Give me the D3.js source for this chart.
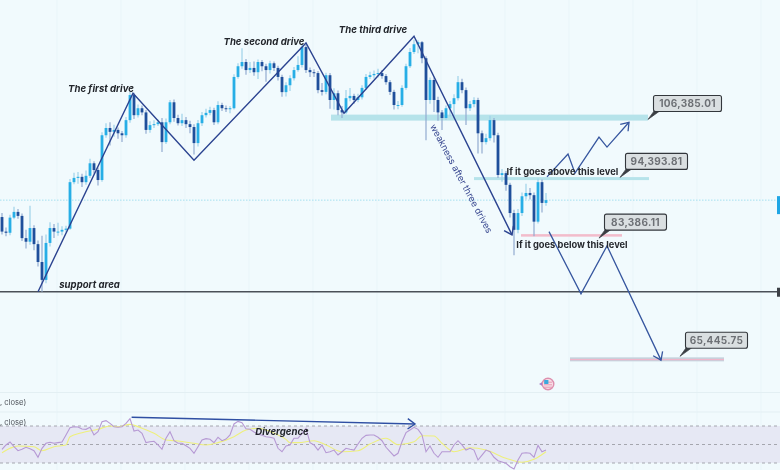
<!DOCTYPE html>
<html>
<head>
<meta charset="utf-8">
<script src="https://cdn.jsdelivr.net/npm/d3@7"></script>
<style>
  html, body { margin: 0; padding: 0; background: #f1fafd; overflow: hidden; }
  text { font-family: Inter, "Open Sans", sans-serif; }
</style>
</head>
<body>
<div id="chart"></div>
<script>
// prices are in thousands of USD, one entry per candle
const firstOpen = 87.2;
const closes = [
  84.7, 84.5, 87.1, 88.1, 87.4, 83.6, 83.0, 85.3, 82.6, 79.7, 76.9, 82.8, 85.3, 84.7, 84.7, 85.0, 85.2,
  93.5, 94.3, 94.5, 93.5, 94.7, 97.1, 95.8, 93.9, 102.7, 104.2, 103.4, 103.8, 103.1, 102.7, 105.85, 111.3,
  106.9, 108.4, 107.5, 103.8, 104.8, 105.0, 105.4, 101.3, 105.4, 109.7, 106.3, 105.2, 105.85, 105.0, 104.4,
  101.1, 105.2, 106.9, 107.4, 108.0, 105.4, 109.1, 108.4, 108.2, 108.4, 115.4, 117.9, 118.9, 117.0, 117.5,
  116.5, 118.9, 117.9, 117.0, 118.6, 117.5, 115.4, 111.95, 113.5, 115.1, 117.0, 118.2, 122.5, 117.0, 116.5,
  116.3, 112.4, 112.0, 115.8, 110.2, 111.7, 108.0, 107.5, 110.6, 111.1, 110.2, 110.8, 112.9, 115.4, 115.8,
  116.1, 116.3, 115.6, 114.2, 112.0, 109.1, 109.1, 112.9, 117.9, 121.3, 123.2, 123.7, 119.8, 110.2, 114.7,
  110.2, 107.5, 106.3, 108.4, 109.3, 110.6, 114.2, 112.4, 108.4, 109.3, 110.2, 103.1, 101.3, 102.1, 105.85,
  102.7, 94.85, 95.2, 93.0, 87.9, 85.0, 87.9, 90.9, 91.5, 91.1, 86.4, 93.5, 89.7, 90.2
];
const highs = [
  87.9, 85.4, 87.6, 89.0, 88.6, 87.8, 85.0, 89.2, 85.8, 83.2, 84.0, 84.2, 86.3, 86.0, 86.2, 85.6, 85.7,
  94.1, 95.3, 95.4, 95.1, 95.7, 98.0, 97.5, 96.3, 103.3, 105.2, 105.4, 104.9, 104.3, 103.6, 106.5, 112.0,
  111.8, 109.2, 109.0, 108.0, 105.6, 105.8, 106.0, 106.3, 106.2, 110.2, 110.3, 107.0, 107.2, 106.5, 105.7,
  105.0, 105.9, 107.6, 108.3, 108.7, 108.5, 109.9, 109.6, 109.0, 108.9, 116.0, 118.6, 122.2, 119.6, 118.9,
  119.0, 119.5, 119.4, 118.5, 119.2, 119.0, 118.0, 115.9, 114.2, 115.8, 117.7, 120.3, 123.3, 123.1, 117.6,
  117.2, 116.8, 114.0, 116.4, 116.3, 112.8, 112.3, 108.9, 112.4, 112.9, 111.6, 111.6, 113.5, 116.1, 116.6,
  116.9, 117.3, 117.0, 116.1, 114.7, 112.5, 110.0, 113.5, 118.5, 122.3, 124.3, 124.2, 124.0, 120.3, 115.3,
  115.3, 110.9, 108.0, 109.0, 110.0, 111.5, 115.6, 115.0, 113.0, 110.0, 110.8, 110.7, 103.7, 103.0, 106.8,
  106.3, 103.2, 96.0, 95.6, 93.4, 88.5, 88.6, 91.6, 93.2, 92.4, 91.6, 94.2, 94.0, 91.5
];
const lows = [
  84.2, 83.9, 84.1, 86.8, 86.9, 83.1, 81.9, 82.5, 81.6, 79.0, 75.1, 76.4, 82.2, 83.6, 84.0, 84.1, 84.6,
  85.0, 93.1, 93.2, 92.6, 93.0, 94.3, 95.1, 92.9, 93.6, 102.2, 100.6, 102.4, 102.0, 101.3, 102.2, 105.3,
  106.1, 106.4, 106.9, 103.0, 103.2, 104.2, 104.6, 99.3, 100.9, 105.0, 105.5, 104.7, 104.6, 104.2, 103.1,
  98.8, 100.4, 104.6, 106.4, 106.9, 104.8, 105.0, 107.8, 107.6, 107.3, 108.1, 115.0, 117.3, 115.9, 116.3,
  115.7, 114.9, 116.7, 114.3, 116.2, 116.8, 114.6, 110.9, 111.0, 112.2, 114.6, 116.6, 117.6, 116.3, 115.4,
  115.4, 111.7, 111.2, 111.5, 108.3, 108.1, 106.9, 106.3, 107.1, 109.9, 109.4, 109.7, 110.3, 112.4, 114.9,
  115.0, 115.3, 115.0, 113.6, 111.3, 108.1, 108.2, 108.7, 112.5, 117.5, 120.8, 121.0, 118.6, 101.7, 109.4,
  107.6, 105.7, 103.8, 105.9, 106.6, 106.2, 110.1, 111.7, 104.8, 107.8, 108.6, 99.0, 99.0, 100.8, 101.6,
  101.2, 94.3, 93.6, 91.9, 87.1, 80.8, 84.4, 87.4, 90.3, 90.3, 83.9, 86.1, 88.0, 89.2
];

// RSI pane, one value per candle
const rsiValues = [
  44.8, 49.5, 52.7, 47.6, 43.3, 44.8, 47, 45.5, 43.3, 36.2, 45.9, 51.3, 52.4, 51.3, 52, 52.7, 60.3, 68.2,
  69.2, 68.9, 66.8, 66.4, 68.6, 60.3, 63.8, 74.6, 75.8, 72.9, 69.2, 68.6, 69.2, 72.9, 77.9, 64.6, 65.7, 62.1,
  52, 53, 53.5, 49.5, 44.8, 56.7, 63.8, 54.1, 51.3, 51.3, 48.7, 45.9, 40.5, 47.6, 54.9, 56.3, 55.6, 52, 57.8,
  54.1, 55.9, 60.3, 72.2, 75, 73.6, 67.1, 66.4, 63.5, 61.4, 59.9, 58.4, 57.8, 56.7, 45.9, 42.2, 48.4, 49.5,
  56.7, 56.7, 62.1, 67.5, 52, 49.5, 44, 49.5, 41.1, 42.2, 44, 38.6, 42.2, 45.9, 44.8, 44, 50.5, 56.7, 59.9,
  60.3, 60.3, 57.8, 54.1, 47, 42.2, 37.6, 40.5, 53, 62.8, 65.7, 68.6, 66.4, 60.3, 42.2, 48.4, 40.5, 36.2, 42.2,
  42.2, 42.2, 49.5, 54.1, 49.5, 44, 45.9, 44, 33.2, 38.6, 44, 42.2, 36.2, 32.5, 31.1, 29.7, 26, 23.5, 33.2,
  40.5, 41.1, 40.5, 36.2, 49.1, 42.2, 44
];
const rsiMaIdx = [0, 2, 4, 8, 10, 13, 16, 17, 20, 24, 27, 29, 32, 35, 38, 41, 44, 48, 51, 54, 58, 61, 64, 66, 69,
  71, 72, 74, 78, 81, 85, 89, 92, 96, 99, 103, 105, 108, 110, 113, 117, 121, 126, 130, 133, 136];
const rsiMaValues = [41.1, 45.9, 48.4, 47.6, 43.3, 47.6, 49.5, 58.4, 62.8, 66.4, 70, 69.2, 71.8, 67.5, 62.1, 54.9,
  53.8, 51.3, 49.5, 52, 58.4, 65.7, 67.5, 65.7, 60.3, 55.6, 52, 52, 54.1, 49.5, 42.2, 43.3, 50.5, 56.7, 49.8, 53,
  59.5, 59.2, 51.3, 42.2, 46.5, 44, 35.1, 30.8, 34, 42.2];
const rsiBands = [70, 50, 30];

// drawn annotations, [candle index, price]
const driveLine = [[9, 75.1], [32.75, 111.7], [48, 97.7], [76, 123.5], [85.5, 107.3], [103, 125.2], [127.5, 84.15]];
const upPath = [[136.25, 94.5], [141.5, 98.9], [143.25, 95.2], [149.25, 102.3], [151.25, 100.3], [156.75, 105.4]];
const downPath = [[136.75, 84.7], [144.75, 74.8], [151.25, 82.3], [164.75, 65.5]];
const divergence = [[32.4, 79.4], [103.25, 72.2]];
const supportPrice = 75.1;

const levelLabels = ["106,385.01", "94,393.81", "83,386.11", "65,445.75"];
const levelPrices = [106.385, 94.17, 84.06, 65.6];
const levelFrom = [82.25, 118, 129.75, 142];
const levelTo = [161.5, 161.75, 155, 180.5];
const levelTailIdx = [161.5, 154.5, 149.25, 169.5];
const levelTailPrice = [106.0, 94.4, 83.6, 66.0];
const levelColors = ["#b6e3ea", "#b6e3ea", "#f2bccb", "#c3d3dd"];
const levelHeights = [6, 3, 2.5, 4];

const noteTexts = ["The first drive", "The second drive", "The third drive", "support area"];
const noteIdx = [24.75, 65.5, 92.75, 21.9];
const notePrices = [111.9, 122.9, 125.95, 75.6];
const plainTexts = ["If it goes above this level", "If it goes below this level"];
const plainIdx = [140.1, 142.5];
const plainPrices = [94.85, 82.0];

const width = 780, height = 470;
const paneBottom = 390;

const x = d3.scaleLinear().domain([0, 136]).range([2, 546]);
const y = d3.scaleLog().domain([61.7, 134.6]).range([paneBottom, 0]);
const yRsi = d3.scaleLinear().domain([30, 70]).range([463, 426]);

const svg = d3.select("#chart").append("svg")
  .attr("width", width)
  .attr("height", height)
  .style("display", "block");

svg.append("rect").attr("width", width).attr("height", height).attr("fill", "#f1fafd");

// the screenshot is a soft upscale, everything sits in this group
const g = svg.append("g").style("filter", "blur(0.55px)");

// faint vertical grid
const gridIdx = d3.range(-3, 190, 16);
g.selectAll("line.grid").data(gridIdx).enter().append("line")
  .attr("class", "grid")
  .attr("x1", d => x(d) + 3).attr("x2", d => x(d) + 3)
  .attr("y1", 0).attr("y2", height)
  .attr("stroke", "#e9f5f9").attr("stroke-width", 1);

// pane separators
g.selectAll("line.sep").data([392.5, 412]).enter().append("line")
  .attr("class", "sep")
  .attr("x1", 0).attr("x2", width)
  .attr("y1", d => d).attr("y2", d => d)
  .attr("stroke", "#e3eff3").attr("stroke-width", 1);

// levels
levelPrices.forEach(function(p, i) {
  const h = levelHeights[i];
  g.append("rect")
    .attr("x", x(levelFrom[i]))
    .attr("y", y(p) - h / 2)
    .attr("width", x(levelTo[i]) - x(levelFrom[i]))
    .attr("height", h)
    .attr("fill", levelColors[i]);
  if (i == 3) {
    g.append("rect")
      .attr("x", x(levelFrom[i]))
      .attr("y", y(p) - 0.5)
      .attr("width", x(levelTo[i]) - x(levelFrom[i]))
      .attr("height", 1.4)
      .attr("fill", "#efb6ca");
  }
});

// last price and support lines
const lastY = y(closes[closes.length - 1]);
g.append("line")
  .attr("x1", 0).attr("x2", width).attr("y1", lastY).attr("y2", lastY)
  .attr("stroke", "#a5e0f0").attr("stroke-width", 1).attr("stroke-dasharray", "1.5 1.5");
g.append("rect").attr("x", 777).attr("y", lastY - 4).attr("width", 3).attr("height", 18).attr("fill", "#1fa6e5");

g.append("line")
  .attr("x1", 0).attr("x2", width).attr("y1", y(supportPrice)).attr("y2", y(supportPrice))
  .attr("stroke", "#4b5058").attr("stroke-width", 1.3);
g.append("rect").attr("x", 777).attr("y", y(supportPrice) - 4).attr("width", 3).attr("height", 9).attr("fill", "#3c4046");

// candles
const candles = closes.map(function(c, i) {
  return { i: i, open: i == 0 ? firstOpen : closes[i - 1], close: c, high: highs[i], low: lows[i] };
});

g.selectAll("line.wick").data(candles).enter().append("line")
  .attr("class", "wick")
  .attr("x1", d => x(d.i)).attr("x2", d => x(d.i))
  .attr("y1", d => y(d.high)).attr("y2", d => y(d.low))
  .attr("stroke", d => d.close >= d.open ? "#9ed2ea" : "#93abd0")
  .attr("stroke-width", 1.2);

g.selectAll("rect.body").data(candles).enter().append("rect")
  .attr("class", "body")
  .attr("x", d => x(d.i) - 1.4)
  .attr("width", 2.8)
  .attr("y", d => y(Math.max(d.open, d.close)))
  .attr("height", d => Math.max(1, Math.abs(y(d.open) - y(d.close))))
  .attr("fill", d => d.close >= d.open ? "#27aee6" : "#1f4f9b");

// trend lines
const px = d3.line().x(d => x(d[0])).y(d => y(d[1]));

function arrowHead(sel, from, to, size, color, sw) {
  const a = Math.atan2(to[1] - from[1], to[0] - from[0]);
  const spread = 0.62;
  const pts = [
    [to[0] - size * Math.cos(a - spread), to[1] - size * Math.sin(a - spread)],
    to,
    [to[0] - size * Math.cos(a + spread), to[1] - size * Math.sin(a + spread)]
  ];
  sel.append("path")
    .attr("d", d3.line()(pts))
    .attr("fill", "none")
    .attr("stroke", color)
    .attr("stroke-width", sw);
}

function trend(points, color, sw) {
  g.append("path")
    .attr("d", px(points))
    .attr("fill", "none")
    .attr("stroke", color)
    .attr("stroke-width", sw)
    .attr("stroke-linejoin", "miter");
  const n = points.length;
  arrowHead(g,
    [x(points[n - 2][0]), y(points[n - 2][1])],
    [x(points[n - 1][0]), y(points[n - 1][1])],
    9, color, sw);
}

trend(driveLine, "#2b4390", 1.4);
trend(upPath, "#36569f", 1.3);
trend(downPath, "#36569f", 1.3);

// annotations
g.selectAll("text.note").data(noteTexts).enter().append("text")
  .attr("class", "note")
  .attr("x", (d, i) => x(noteIdx[i]))
  .attr("y", (d, i) => y(notePrices[i]))
  .attr("text-anchor", "middle")
  .attr("font-size", 9.6)
  .attr("font-weight", 700)
  .attr("font-style", "italic")
  .attr("fill", "#22252b")
  .text(d => d);

g.selectAll("text.plain").data(plainTexts).enter().append("text")
  .attr("class", "plain")
  .attr("x", (d, i) => x(plainIdx[i]))
  .attr("y", (d, i) => y(plainPrices[i]))
  .attr("text-anchor", "middle")
  .attr("font-size", 9.3)
  .attr("font-weight", 700)
  .attr("fill", "#26292e")
  .text(d => d);

g.append("text")
  .attr("transform", "translate(" + x(114.1) + "," + y(93.9) + ") rotate(62)")
  .attr("text-anchor", "middle")
  .attr("font-size", 9.3)
  .attr("fill", "#3c4b92")
  .text("weakness after three drives");

// price callouts
levelLabels.forEach(function(label, i) {
  const tx = x(levelTailIdx[i]), ty = y(levelTailPrice[i]);
  const bw = i == 0 ? 68 : 62, bh = 16;
  const bx = tx + 5.5, by = ty - 24;
  g.append("path")
    .attr("d", d3.line()([[tx, ty], [bx + 1, by + bh - 1], [bx + 7, by + bh - 1]]) + "Z")
    .attr("fill", "#3a3e43")
    .attr("stroke", "#3a3e43")
    .attr("stroke-width", 0.7);
  g.append("rect")
    .attr("x", bx).attr("y", by)
    .attr("width", bw).attr("height", bh)
    .attr("rx", 2)
    .attr("fill", "#dadfe1")
    .attr("stroke", "#33373c")
    .attr("stroke-width", 1.1);
  g.append("text")
    .attr("x", bx + bw / 2).attr("y", by + 11.6)
    .attr("text-anchor", "middle")
    .attr("font-size", 10)
    .attr("font-weight", 700)
    .attr("letter-spacing", 0.3)
    .attr("fill", "#6d7075")
    .text(label);
});

// small flag badge
const badge = g.append("g").attr("transform", "translate(548,384)");
badge.append("circle").attr("r", 5.8).attr("fill", "#f7dfe7").attr("stroke", "#dd8fae").attr("stroke-width", 1.4);
[-1.8, 0.8, 3.2].forEach(function(d) {
  badge.append("line").attr("x1", -4).attr("x2", 4).attr("y1", d).attr("y2", d)
    .attr("stroke", "#e792ae").attr("stroke-width", 0.9);
});
badge.append("rect").attr("x", -3.8).attr("y", -4).attr("width", 4.2).attr("height", 4).attr("fill", "#3aa9de");
badge.append("path").attr("d", "M-9,0L-6,-1.8L-6,1.8Z").attr("fill", "#a67fc9");

// indicator pane
g.append("rect")
  .attr("x", 0).attr("width", width)
  .attr("y", yRsi(70)).attr("height", yRsi(30) - yRsi(70))
  .attr("fill", "#e6e8f4");
g.selectAll("line.band").data(rsiBands).enter().append("line")
  .attr("class", "band")
  .attr("x1", 0).attr("x2", width)
  .attr("y1", d => yRsi(d)).attr("y2", d => yRsi(d))
  .attr("stroke", "#9d9ea6").attr("stroke-width", 0.9).attr("stroke-dasharray", "3 3");

g.selectAll("text.paneLabel").data([402, 422]).enter().append("text")
  .attr("class", "paneLabel")
  .attr("x", 0).attr("y", d => d + 3)
  .attr("font-size", 7.6)
  .attr("fill", "#4e525a")
  .text(", close)");

g.append("path")
  .attr("d", d3.line().x((d, i) => x(rsiMaIdx[i])).y(d => yRsi(d)).curve(d3.curveMonotoneX)(rsiMaValues))
  .attr("fill", "none").attr("stroke", "#eef07c").attr("stroke-width", 1.1);

g.append("path")
  .attr("d", d3.line().x((d, i) => x(i)).y(d => yRsi(d))(rsiValues))
  .attr("fill", "none").attr("stroke", "#b699d4").attr("stroke-width", 1.1);

const div0 = [x(divergence[0][0]), yRsi(divergence[0][1])];
const div1 = [x(divergence[1][0]), yRsi(divergence[1][1])];
g.append("path").attr("d", d3.line()([div0, div1])).attr("fill", "none")
  .attr("stroke", "#2f4fa3").attr("stroke-width", 1.4);
arrowHead(g, div0, div1, 9, "#2f4fa3", 1.4);

g.append("text")
  .attr("x", x(70)).attr("y", yRsi(60.3))
  .attr("text-anchor", "middle")
  .attr("font-size", 9.6)
  .attr("font-weight", 700)
  .attr("font-style", "italic")
  .attr("fill", "#22252b")
  .text("Divergence");
</script>
</body>
</html>
